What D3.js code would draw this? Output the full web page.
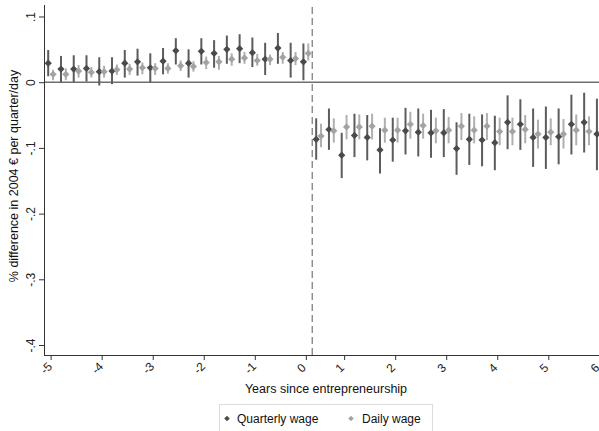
<!DOCTYPE html>
<html>
<head>
<meta charset="utf-8">
<script src="https://cdn.jsdelivr.net/npm/d3@7"></script>
<style>
  html, body { margin: 0; padding: 0; background: #fff; }
  svg { display: block; font-family: "Liberation Sans", Arial, sans-serif; }
</style>
</head>
<body>
<svg id="chart" width="599" height="431"></svg>
<script>
// Quarters relative to the start of entrepreneurship
const quarters = [-20,-19,-18,-17,-16,-15,-14,-13,-12,-11,-10,-9,-8,-7,-6,-5,-4,-3,-2,-1,0,
                  1,2,3,4,5,6,7,8,9,10,11,12,13,14,15,16,17,18,19,20,21,22,23];

// Quarterly wage: point estimate and 95% interval
const quarterly = [0.029,0.020,0.020,0.021,0.016,0.017,0.029,0.031,0.022,0.032,0.048,0.029,0.047,0.044,0.050,0.051,0.045,0.035,0.052,0.033,0.031,
                   -0.087,-0.072,-0.111,-0.081,-0.084,-0.103,-0.088,-0.074,-0.076,-0.077,-0.077,-0.101,-0.087,-0.088,-0.092,-0.061,-0.064,-0.084,-0.084,-0.083,-0.064,-0.061,-0.079];
const quarterlyLo = [0.009,0.000,0.000,0.001,-0.005,-0.003,0.007,0.010,0.000,0.012,0.027,0.007,0.027,0.022,0.028,0.029,0.023,0.011,0.028,0.007,0.003,
                     -0.118,-0.103,-0.146,-0.114,-0.119,-0.139,-0.121,-0.110,-0.113,-0.115,-0.114,-0.141,-0.126,-0.128,-0.134,-0.102,-0.103,-0.129,-0.132,-0.125,-0.110,-0.107,-0.134];
const quarterlyHi = [0.049,0.040,0.041,0.041,0.038,0.038,0.049,0.051,0.044,0.052,0.067,0.050,0.067,0.064,0.071,0.073,0.068,0.060,0.075,0.060,0.059,
                     -0.055,-0.040,-0.077,-0.048,-0.050,-0.070,-0.054,-0.039,-0.040,-0.042,-0.041,-0.061,-0.048,-0.049,-0.051,-0.020,-0.026,-0.040,-0.037,-0.040,-0.019,-0.016,-0.025];

// Daily wage: point estimate and 95% interval
const daily = [0.012,0.012,0.017,0.015,0.016,0.019,0.020,0.022,0.021,0.021,0.025,0.024,0.030,0.031,0.035,0.037,0.033,0.035,0.038,0.036,0.044,
               -0.082,-0.074,-0.068,-0.068,-0.067,-0.073,-0.073,-0.064,-0.066,-0.074,-0.073,-0.067,-0.073,-0.067,-0.075,-0.075,-0.072,-0.079,-0.076,-0.079,-0.073,-0.075,-0.075];
const dailyLo = [0.003,0.003,0.007,0.007,0.007,0.011,0.011,0.012,0.011,0.013,0.017,0.016,0.020,0.019,0.025,0.028,0.025,0.026,0.028,0.026,0.033,
                 -0.099,-0.092,-0.087,-0.087,-0.087,-0.092,-0.092,-0.086,-0.086,-0.093,-0.093,-0.088,-0.093,-0.088,-0.096,-0.096,-0.093,-0.101,-0.096,-0.101,-0.096,-0.096,-0.097];
const dailyHi = [0.019,0.021,0.026,0.023,0.025,0.027,0.028,0.030,0.029,0.029,0.033,0.032,0.039,0.040,0.044,0.046,0.043,0.042,0.046,0.046,0.059,
                 -0.063,-0.055,-0.050,-0.049,-0.048,-0.054,-0.054,-0.045,-0.048,-0.054,-0.053,-0.047,-0.052,-0.047,-0.054,-0.054,-0.050,-0.057,-0.055,-0.056,-0.049,-0.052,-0.053];

// Axis ticks
const xTickQuarters = [-20,-16,-12,-8,-4,0,3,7,11,15,19,23];
const xTickLabels = ["-5","-4","-3","-2","-1","0","1","2","3","4","5","6"];
const yTickValues = [0.1,0,-0.1,-0.2,-0.3,-0.4];
const yTickLabels = [".1","0","-.1","-.2","-.3","-.4"];

const seriesNames = ["Quarterly wage","Daily wage"];
const eventQuarter = 0.5;

const svg = d3.select("#chart");
const W = 599, H = 431;
const pLeft = 44, pTop = 5, pBottom = 355;

const x = d3.scaleLinear().domain([-20.52, 23.6]).range([pLeft, 607]);
const y = d3.scaleLinear().domain([-0.4152, 0.1175]).range([pBottom, pTop]);

const darkMark = "#4a4a4a", darkBar = "#5c5c5c";
const lightMark = "#a3a3a3", lightBar = "#b0b0b0";
const axisColor = "#333";
const offset = 0.19; // horizontal shift between the two series, in quarters

const plot = svg.append("g");

// zero line
plot.append("line")
  .attr("x1", pLeft).attr("x2", W)
  .attr("y1", y(0)).attr("y2", y(0))
  .attr("stroke", "#6e6e6e").attr("stroke-width", 1.6);

// start of entrepreneurship
plot.append("line")
  .attr("x1", x(eventQuarter)).attr("x2", x(eventQuarter))
  .attr("y1", pTop + 2).attr("y2", pBottom)
  .attr("stroke", "#777").attr("stroke-width", 1.2)
  .attr("stroke-dasharray", "7,4");

const diamond = (r) => `M0,${-r}L${r},0L0,${r}L${-r},0Z`;

function drawSeries(vals, lo, hi, shift, barColor, markColor) {
  const g = plot.append("g");
  g.selectAll("line").data(quarters).join("line")
    .attr("x1", (q) => x(q + shift)).attr("x2", (q) => x(q + shift))
    .attr("y1", (q, i) => y(lo[i])).attr("y2", (q, i) => y(hi[i]))
    .attr("stroke", barColor).attr("stroke-width", 2);
  g.selectAll("path").data(quarters).join("path")
    .attr("d", diamond(3.6))
    .attr("transform", (q, i) => `translate(${x(q + shift)},${y(vals[i])})`)
    .attr("fill", markColor);
}

drawSeries(quarterly, quarterlyLo, quarterlyHi, -offset, darkBar, darkMark);
drawSeries(daily, dailyLo, dailyHi, offset, lightBar, lightMark);

// axes
const xAxis = d3.axisBottom(x)
  .tickValues(xTickQuarters)
  .tickFormat((d, i) => xTickLabels[i])
  .tickSize(5).tickSizeOuter(0);
const gx = svg.append("g").attr("transform", `translate(0,${pBottom})`).call(xAxis);
gx.select(".domain").attr("stroke", axisColor).attr("d", `M${pLeft},0.5H${W}`);
gx.selectAll(".tick line").attr("stroke", axisColor);
gx.selectAll(".tick text")
  .attr("fill", "#222").attr("font-size", 12)
  .attr("text-anchor", "middle")
  .attr("y", 0).attr("dy", 0)
  .attr("transform", "translate(-2,16) rotate(-45)");

const yAxis = d3.axisLeft(y)
  .tickValues(yTickValues)
  .tickFormat((d, i) => yTickLabels[i])
  .tickSize(5).tickSizeOuter(0);
const gy = svg.append("g").attr("transform", `translate(${pLeft},0)`).call(yAxis);
gy.select(".domain").attr("stroke", axisColor).attr("d", `M0.5,${pTop}V${pBottom}`);
gy.selectAll(".tick line").attr("stroke", axisColor);
gy.selectAll(".tick text")
  .attr("fill", "#222").attr("font-size", 12)
  .attr("text-anchor", "middle")
  .attr("x", 0).attr("dy", 0)
  .attr("transform", "translate(-9,0) rotate(-90)");

// axis titles
svg.append("text")
  .attr("x", 326).attr("y", 393)
  .attr("text-anchor", "middle").attr("font-size", 12.5).attr("fill", "#111")
  .text("Years since entrepreneurship");

svg.append("text")
  .attr("transform", "translate(18,176) rotate(-90)")
  .attr("text-anchor", "middle").attr("font-size", 12.5).attr("fill", "#111")
  .text("% difference in 2004 € per quarter/day");

// legend
const lg = svg.append("g");
lg.append("rect")
  .attr("x", 219.5).attr("y", 404.5).attr("width", 213).attr("height", 30)
  .attr("fill", "#fff").attr("stroke", "#dcdcdc");
const legendItems = [
  { name: seriesNames[0], color: darkMark, mx: 227, tx: 237 },
  { name: seriesNames[1], color: lightMark, mx: 351, tx: 362 }
];
legendItems.forEach((d) => {
  lg.append("path").attr("d", diamond(2.8))
    .attr("transform", `translate(${d.mx},418.5)`).attr("fill", d.color);
  lg.append("text").attr("x", d.tx).attr("y", 423)
    .attr("font-size", 12).attr("fill", "#111").text(d.name);
});
</script>
</body>
</html>
